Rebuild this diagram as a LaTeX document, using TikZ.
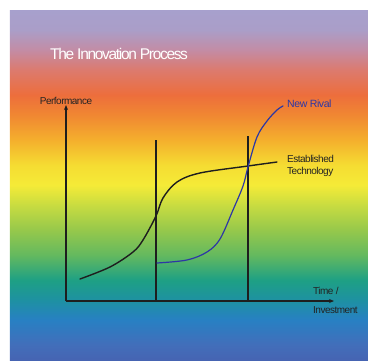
\documentclass[tikz,border=0pt]{standalone}
\usepackage{fontspec}
\setmainfont{Liberation Sans}
\usetikzlibrary{arrows.meta}

\definecolor{bgc0}{RGB}{70,100,178}
\definecolor{bgc1}{RGB}{66,110,186}
\definecolor{bgc2}{RGB}{40,128,195}
\definecolor{bgc3}{RGB}{30,145,162}
\definecolor{bgc4}{RGB}{30,160,132}
\definecolor{bgc5}{RGB}{100,185,95}
\definecolor{bgc6}{RGB}{150,200,75}
\definecolor{bgc7}{RGB}{200,220,65}
\definecolor{bgc8}{RGB}{245,235,55}
\definecolor{bgc9}{RGB}{245,220,50}
\definecolor{bgc10}{RGB}{244,175,45}
\definecolor{bgc11}{RGB}{240,135,50}
\definecolor{bgc12}{RGB}{237,110,60}
\definecolor{bgc13}{RGB}{220,122,110}
\definecolor{bgc14}{RGB}{195,140,165}
\definecolor{bgc15}{RGB}{170,158,200}
\definecolor{bgc16}{RGB}{167,160,205}
\definecolor{ink}{RGB}{30,30,30}
\definecolor{labelgray}{RGB}{35,35,35}
\definecolor{rival}{RGB}{45,55,165}

% rainbow backdrop, bottom (blue) to top (lavender);
% the path is mapped onto the central band 25bp--75bp
\pgfdeclareverticalshading{rainbow}{100bp}{%
  color(0bp)=(bgc0); color(25bp)=(bgc0); color(27.143bp)=(bgc1); color(30.714bp)=(bgc2);
  color(33.571bp)=(bgc3); color(36.429bp)=(bgc4); color(40bp)=(bgc5); color(43.571bp)=(bgc6);
  color(47.143bp)=(bgc7); color(50bp)=(bgc8); color(52.857bp)=(bgc9); color(56.429bp)=(bgc10);
  color(60bp)=(bgc11); color(62.857bp)=(bgc12); color(66.429bp)=(bgc13); color(69.286bp)=(bgc14);
  color(72.143bp)=(bgc15); color(75bp)=(bgc16); color(100bp)=(bgc16)}

\tikzset{
  axis/.style={draw=ink, line width=1.2pt, -{Stealth[length=5pt,width=4pt]}},
  divider/.style={draw=ink, line width=1.3pt},
  curve/.style={line width=1.4pt, line cap=round},
  lbl/.style={text=labelgray, font=\fontsize{10}{12}\selectfont\addfontfeatures{LetterSpace=-5}, inner sep=0pt, anchor=base west, align=left},
}

\begin{document}
\begin{tikzpicture}[x=1pt,y=-1pt]
  \useasboundingbox (0,0) rectangle (368,360);
  \shade[shading=rainbow] (10,10) rectangle (368,360);

  % title
  \node[text=white, font=\fontsize{15.5}{18}\selectfont\addfontfeatures{LetterSpace=-8.5}, inner sep=0pt, anchor=base west] (title) at (50,59.5) {The Innovation Process};

  % axes
  \coordinate (origin) at (66,301);
  \coordinate (ytip) at (66,105);
  \coordinate (xtip) at (334,301);
  \draw[axis] (origin) -- (ytip);
  \draw[axis] (origin) -- (xtip);

  % phase dividers
  \coordinate (d1top) at (156,140);
  \coordinate (d1bot) at (156,301);
  \coordinate (d2top) at (248,136);
  \coordinate (d2bot) at (248,301);
  \draw[divider] (d1top) -- (d1bot);
  \draw[divider] (d2top) -- (d2bot);

  % established technology S-curve
  \draw[curve, draw=ink] plot[smooth, tension=0.55] coordinates {
    (80,279) (110,267) (133,252) (143,240) (156,216) (163,198) (177,182)
    (200,173) (248,166) (277,162)};

  % new rival S-curve
  \draw[curve, draw=rival, line width=1.2pt] plot[smooth, tension=0.55] coordinates {
    (157,263) (187,260) (207,252) (220,239) (233,210) (243,186) (248,167)
    (257,137) (267,121) (277,110) (283,106)};

  % labels
  \node[lbl, anchor=base] (perf) at (66,104) {Performance};
  \node[lbl, text=rival, font=\fontsize{10.5}{12}\selectfont\addfontfeatures{LetterSpace=-4}] (rivallbl) at (287,107) {New Rival};
  \node[lbl] (estlbl) at (287,162) {Established};
  \node[lbl] (techlbl) at (287,174.5) {Technology};
  \node[lbl] (timelbl) at (313,294) {Time /};
  \node[lbl] (invlbl) at (313,313) {Investment};
\end{tikzpicture}
\end{document}
